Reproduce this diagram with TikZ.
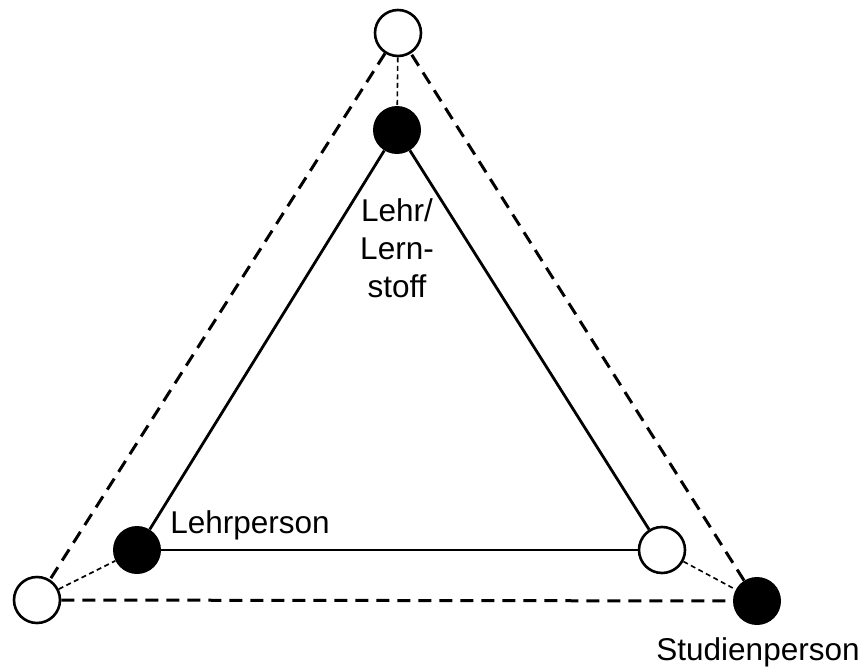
\documentclass[tikz,border=0pt]{standalone}
\usepackage{fontspec}
\setmainfont{Liberation Sans}
\begin{document}
\begin{tikzpicture}[x=1pt,y=-1pt,font=\fontsize{31.5}{38}\selectfont]
    \tikzset{
        hollow/.style={
            circle,draw,line width=2.6pt,fill=white,
            minimum size=46pt,inner sep=0pt
        },
        filled/.style={
            circle,fill=black,minimum size=48pt,inner sep=0pt
        },
        side/.style={line width=2.8pt},
        outer/.style={line width=3pt,dash pattern=on 13pt off 8pt},
        link/.style={line width=1.6pt,dash pattern=on 5pt off 3.5pt}
    }
    \useasboundingbox (0,0) rectangle (861,666);

    % inner triangle
    \node[filled] (stoff) at (397,130) {};
    \node[filled] (lehrer) at (137,550) {};
    \node[hollow] (lernerin) at (662,550) {};

    % outer triangle
    \node[hollow] (stoffout) at (398,33) {};
    \node[hollow] (lehrerout) at (37,600) {};
    \node[filled] (studi) at (757,601) {};

    \draw[side] (stoff) -- (lehrer);
    \draw[side] (lehrer) -- (lernerin);
    \draw[side] (lernerin) -- (stoff);

    \draw[outer] (stoffout) -- (lehrerout);
    \draw[outer] (lehrerout) -- (studi);
    \draw[outer] (studi) -- (stoffout);

    \draw[link] (stoffout) -- (stoff);
    \draw[link] (lehrerout) -- (lehrer);
    \draw[link] (lernerin) -- (studi);

    \node[align=center] (stofflabel) at (397,248) {Lehr/\\Lern-\\stoff};
    \node[anchor=base] (lehrerlabel) at (250,533) {Lehrperson};
    \node[anchor=base] (studilabel) at (758,660) {Studienperson};
\end{tikzpicture}
\end{document}
